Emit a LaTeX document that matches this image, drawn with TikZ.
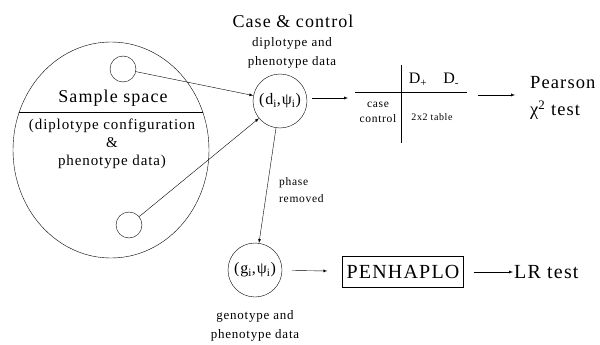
\documentclass[tikz,border=0pt]{standalone}
\usepackage{fontspec}
\setmainfont{Liberation Serif}[LetterSpace=6]
\usepackage{tikz}
\newcommand{\pairnode}[1]{%
  (#1\textsubscript{i},ψ\textsubscript{i})%
}
\newcommand{\fsz}[1]{\fontsize{#1}{1.5\dimexpr#1pt\relax}\selectfont}

\begin{document}
\begin{tikzpicture}[
      x=1pt, y=-1pt,
      every node/.style={inner sep=1pt},
      big/.style={font=\fsz{18}},
      huge/.style={font=\fsz{20}},
      mid/.style={font=\fsz{13}, align=center},
      tiny/.style={font=\fsz{11.5}, align=center},
      pair/.style={draw, circle, minimum size=54pt, inner sep=0pt, font=\fsz{16}},
      dot/.style={draw, circle, minimum size=26pt, inner sep=0pt},
      >=latex
    ]
      \useasboundingbox (0,0) rectangle (600,345);
      % sample space
      \draw (111,150) ellipse [x radius=98pt, y radius=108pt];
      \begin{scope}
        \clip (111,150) ellipse [x radius=98pt, y radius=108pt];
        \draw (0,112) -- (250,112);
      \end{scope}
      \node[dot] (top) at (123,69) {};
      \node[dot] (bot) at (129,225) {};
      \node[big] (space) at (113,98) {Sample space};
      \node[font=\fontsize{15}{18}\selectfont, align=center] (conf) at (112,144)
        {(diplotype configuration\\ \&\\ phenotype data)};

      % case and control
      \node[pair] (d) at (280,101) {\pairnode{d}};
      \node[big] (cc) at (293,21) {Case \& control};
      \node[mid] (dlab) at (292,53) {diplotype and\\ phenotype data};
      \draw[->] (top) -- (d);
      \draw[->] (bot) -- (d);

      % 2x2 table
      \draw (355,92) -- (467,92);
      \draw (401,65) -- (401,143);
      \coordinate (tabin) at (348,98);
      \coordinate (tabout) at (478,95);
      \node[font=\fsz{16}] (dd) at (434,80) {D\textsubscript{+}\quad D\textsubscript{-}};
      \node[tiny, font=\fontsize{11.5}{15}\selectfont] (cases) at (378,112) {case\\ control};
      \node[font=\fsz{10}] (tab) at (432,117) {2x2 table};
      \draw[->, shorten <=5pt] (d.east |- tabin) -- (tabin);
      \node[font=\fsz{18.5}, anchor=west, align=left, inner sep=0pt] (pearson) at (530,98)
        {Pearson\\ χ\textsuperscript{2} test};
      \draw[->] (tabout) -- (pearson.west |- tabout) [shorten >=15pt];

      % phase removed
      \node[pair] (g) at (255,270) {\pairnode{g}};
      \draw[->] (d) -- (g);
      \node[tiny, anchor=west, align=left] (phase) at (278,190) {phase\\ removed};
      \node[mid] (glab) at (255,326) {genotype and\\ phenotype data};
      \node[draw, huge, minimum width=121pt, minimum height=31pt] (pen) at (403,272) {PENHAPLO};
      \node[huge, anchor=west] (lr) at (513,272) {LR test};
      \draw[->, shorten <=10pt, shorten >=15pt] (g) -- (pen);
      \draw[->, shorten <=10pt] (pen) -- (lr);
    \end{tikzpicture}
\end{document}
